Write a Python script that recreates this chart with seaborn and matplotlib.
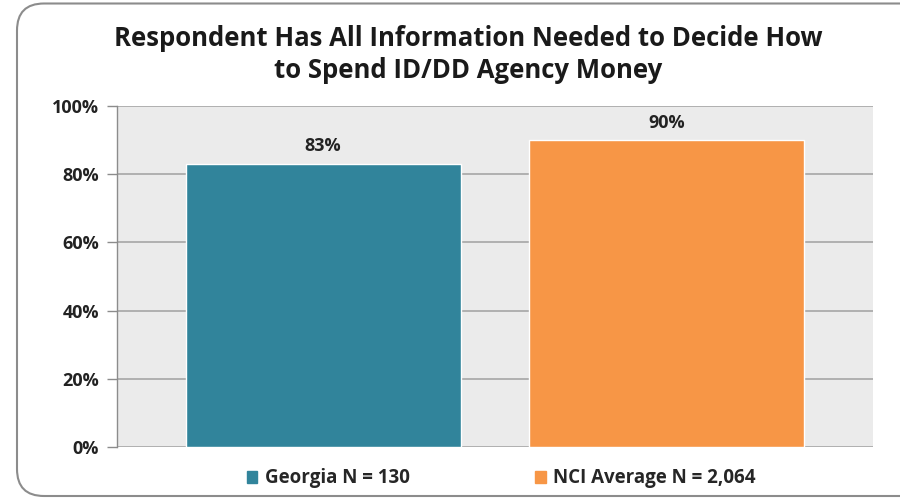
import numpy as np
import pandas as pd
import seaborn as sns
import matplotlib.pyplot as plt
from matplotlib.patches import FancyBboxPatch

# data
groups = ['Georgia N = 130', 'NCI Average N = 2,064']
values = [83, 90]
colors = ['#31849B', '#F79646']
title = 'Respondent Has All Information Needed to Decide How\nto Spend ID/DD Agency Money'
yticks = [0, 20, 40, 60, 80, 100]

df = pd.DataFrame({'group': groups, 'value': values})

sns.set_style('white')
plt.rcParams['font.family'] = ['Open Sans', 'DejaVu Sans']

fig = plt.figure(figsize=(9, 5), dpi=100)
ax = fig.add_axes([0.130, 0.106, 0.840, 0.682])

# rounded outer frame
frame = FancyBboxPatch((17 / 900, 4 / 500), 1.2, 0.985, boxstyle='round,pad=0,rounding_size=0.03',
                       transform=fig.transFigure, facecolor='none', edgecolor='#8C8C8C',
                       linewidth=1.5, mutation_aspect=1.8, zorder=0)
fig.patches.append(frame)

ax.set_facecolor('#EBEBEB')
sns.barplot(data=df, x='group', y='value', hue='group', palette=colors, width=0.8,
            dodge=False, legend=False, ax=ax, zorder=3, saturation=1)

ax.set_ylim(0, 100)
ax.set_xlim(-0.6, 1.6)
ax.set_yticks(yticks)
ax.set_yticklabels([f'{t}%' for t in yticks], fontsize=13, fontweight='bold', color='#222222')
ax.yaxis.grid(True, color='#A6A6A6', linewidth=1.2, zorder=0)
ax.set_axisbelow(True)
ax.tick_params(axis='y', length=7, width=1, color='#8C8C8C', pad=6, left=True)
ax.tick_params(axis='x', bottom=False, labelbottom=False)
ax.set_xlabel('')
ax.set_ylabel('')
for s in ['top', 'right', 'bottom']:
    ax.spines[s].set_visible(False)
ax.spines['left'].set_color('#8C8C8C')
ax.spines['left'].set_linewidth(1)

for i, v in enumerate(values):
    ax.text(i, v + 2.5, f'{v}%', ha='center', va='bottom', fontsize=13, fontweight='bold', color='#222222')

# legend
handles = [plt.Rectangle((0, 0), 1, 1, color=c) for c in colors]
leg = fig.legend(handles, groups, loc='center', bbox_to_anchor=(0.557, 0.043), ncol=2, frameon=False,
                 prop={'weight': 'bold', 'size': 13.5}, handlelength=0.55, handleheight=0.55,
                 columnspacing=6.7, handletextpad=0.4)

fig.suptitle(title, x=0.52, y=0.949, fontsize=18.5, fontweight='bold', color='#1a1a1a', linespacing=1.2)

fig.savefig('out.png', dpi=100)
